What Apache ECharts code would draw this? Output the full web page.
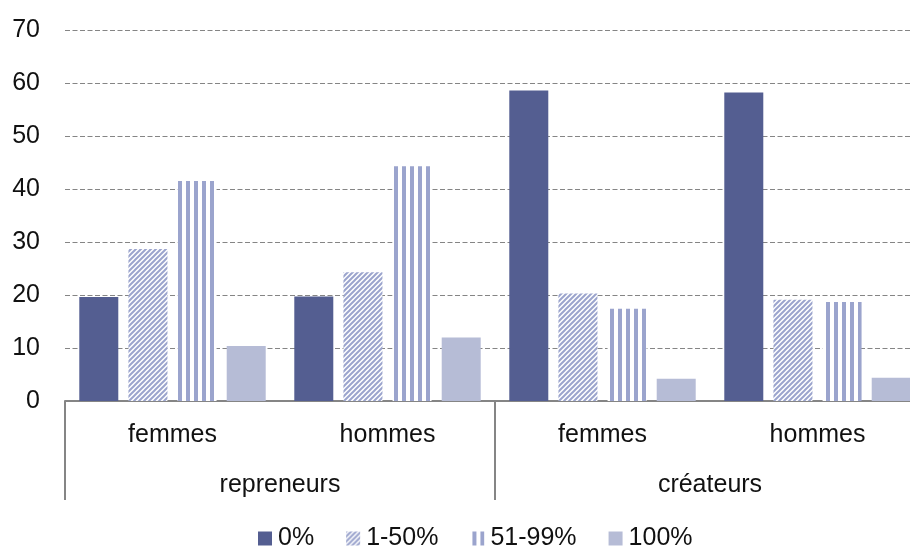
<!DOCTYPE html>
<html>
<head>
<meta charset="utf-8">
<style>
  html, body { margin: 0; padding: 0; background: #fff; overflow: hidden; }
  #chart { width: 925px; height: 548px; }
</style>
<script src="https://cdn.jsdelivr.net/npm/echarts@6/dist/echarts.min.js"></script>
</head>
<body>
<div id="chart"></div>
<script>
// Sub-categories (per group) and the two outer groups
const categories = ['femmes', 'hommes', 'femmes', 'hommes'];
const groups = ['repreneurs', 'créateurs'];
const seriesNames = ['0%', '1-50%', '51-99%', '100%'];

// Values (%) per sub-category
const share0 = [19.6, 19.7, 58.6, 58.2];
const share1to50 = [28.7, 24.3, 20.3, 19.1];
const share51to99 = [41.5, 44.3, 17.4, 18.7];
const share100 = [10.4, 12.0, 4.2, 4.4];

const yTicks = { min: 0, max: 70, interval: 10 };

const FONT = '"Liberation Sans", Arial, Helvetica, sans-serif';
const FONT_SIZE = 25;
const TEXT = '#111';
const DARK = '#545e91';
const STRIPE = '#9ba4cd';
const LIGHT = '#b6bcd6';
const GRID_GRAY = '#858585';

// Diagonal hatch pattern ("/" direction)
function diagonalPattern() {
  const s = 5;
  const c = document.createElement('canvas');
  c.width = s; c.height = s;
  const ctx = c.getContext('2d');
  ctx.fillStyle = '#fff';
  ctx.fillRect(0, 0, s, s);
  ctx.strokeStyle = STRIPE;
  ctx.lineWidth = 2;
  ctx.beginPath();
  ctx.moveTo(-1, s + 1); ctx.lineTo(s + 1, -1);
  ctx.moveTo(-1, 1); ctx.lineTo(1, -1);
  ctx.moveTo(s - 1, s + 1); ctx.lineTo(s + 1, s - 1);
  ctx.stroke();
  return { image: c, repeat: 'repeat' };
}

// Vertical stripe pattern
function verticalPattern() {
  const w = 8, h = 8;
  const c = document.createElement('canvas');
  c.width = w; c.height = h;
  const ctx = c.getContext('2d');
  ctx.fillStyle = '#fff';
  ctx.fillRect(0, 0, w, h);
  ctx.fillStyle = STRIPE;
  ctx.fillRect(2, 0, 4, h);
  return { image: c, repeat: 'repeat' };
}

const fills = [DARK, diagonalPattern(), verticalPattern(), LIGHT];
const values = [share0, share1to50, share51to99, share100];

const chart = echarts.init(document.getElementById('chart'), null, { renderer: 'canvas' });

chart.setOption({
  animation: false,
  backgroundColor: '#fff',
  textStyle: { fontFamily: FONT },
  grid: { left: 65, top: 30, right: 0, height: 371, containLabel: false },
  legend: {
    left: 258,
    top: 526,
    padding: 0,
    itemWidth: 14,
    itemHeight: 14,
    itemGap: 32,
    icon: 'rect',
    textStyle: { fontSize: FONT_SIZE, color: TEXT, fontFamily: FONT, padding: [0, 0, 0, 1] },
    data: seriesNames
  },
  xAxis: [
    {
      type: 'category',
      data: categories,
      position: 'bottom',
      axisLine: { show: true, lineStyle: { color: GRID_GRAY, width: 2 } },
      axisTick: { show: false },
      axisLabel: { fontSize: FONT_SIZE, color: TEXT, margin: 22, fontFamily: FONT },
      splitLine: { show: false }
    },
    {
      type: 'category',
      data: groups,
      position: 'bottom',
      axisLine: { show: false },
      axisTick: { show: true, length: 99, lineStyle: { color: GRID_GRAY, width: 2 } },
      axisLabel: { fontSize: FONT_SIZE, color: TEXT, margin: 72, fontFamily: FONT },
      splitLine: { show: false }
    }
  ],
  yAxis: {
    type: 'value',
    min: yTicks.min,
    max: yTicks.max,
    interval: yTicks.interval,
    axisLine: { show: false },
    axisTick: { show: false },
    axisLabel: { fontSize: FONT_SIZE, color: TEXT, margin: 25, fontFamily: FONT },
    splitLine: { show: true, lineStyle: { color: GRID_GRAY, width: 1.2, type: [5, 2.5] } }
  },
  series: seriesNames.map((name, i) => ({
    name,
    type: 'bar',
    xAxisIndex: 0,
    data: values[i],
    barWidth: 39,
    barGap: '26%',
    itemStyle: { color: fills[i] },
    emphasis: { disabled: true }
  }))
});
</script>
</body>
</html>
